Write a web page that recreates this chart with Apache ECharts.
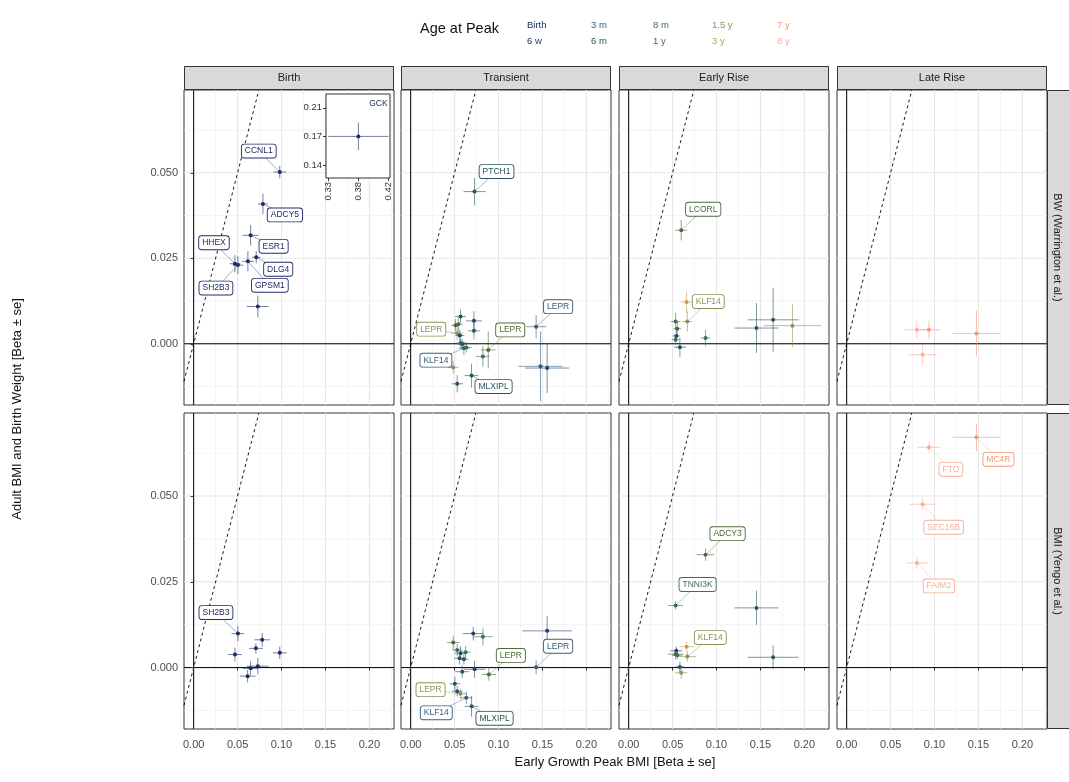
<!DOCTYPE html>
<html>
<head>
<meta charset="utf-8">
<script src="https://cdn.jsdelivr.net/npm/echarts@6/dist/echarts.min.js"></script>
<style>
  html, body { margin: 0; padding: 0; background: #fff; }
  #chart { width: 1069px; height: 782px; }
</style>
</head>
<body>
<div id="chart"></div>
<script>
// ---- categories and ticks ----
const ageGroups = ['Birth', '6 w', '3 m', '6 m', '8 m', '1 y', '1.5 y', '3 y', '7 y', '8 y'];
const peakPatterns = ['Birth', 'Transient', 'Early Rise', 'Late Rise'];
const outcomes = ['BW (Warrington et al.)', 'BMI (Yengo et al.)'];
const xTicks = [0, 0.05, 0.10, 0.15, 0.20];
const xMinorTicks = [0.025, 0.075, 0.125, 0.175, 0.225];
const yTicks = [0, 0.025, 0.050];
const yMinorTicks = [-0.0125, 0.0125, 0.0375, 0.0625];
const insetXTicks = [0.33, 0.375, 0.42];
const insetXTickLabels = ['0.33', '0.38', '0.42'];
const insetYTicks = [0.135, 0.17, 0.205];
const insetYTickLabels = ['0.14', '0.17', '0.21'];

// ---- SNP effects: [early growth peak BMI beta, outcome beta, se x, se y, age group index, gene] ----
const birthBW = [
  [0.0980, 0.0502, 0.0074, 0.0018, 0, 'CCNL1'],
  [0.0788, 0.0409, 0.0055, 0.0030, 0, 'ADCY5'],
  [0.0648, 0.0317, 0.0091, 0.0030, 0, 'ESR1'],
  [0.0712, 0.0253, 0.0046, 0.0018, 0, 'DLG4'],
  [0.0617, 0.0241, 0.0068, 0.0029, 0, 'GPSM1'],
  [0.0470, 0.0234, 0.0060, 0.0025, 0, 'HHEX'],
  [0.0504, 0.0230, 0.0060, 0.0026, 0, 'SH2B3'],
  [0.0730, 0.0109, 0.0125, 0.0032, 0, '']
];
const gckInset = [
  [0.375, 0.170, 0.045, 0.017, 0, 'GCK']
];
const transientBW = [
  [0.0727, 0.0445, 0.0125, 0.0040, 3, 'PTCH1'],
  [0.1428, 0.0050, 0.0114, 0.0034, 2, 'LEPR'],
  [0.0883, -0.0018, 0.0085, 0.0054, 5, 'LEPR'],
  [0.0530, 0.0031, 0.0070, 0.0020, 6, 'LEPR'],
  [0.0606, -0.0013, 0.0060, 0.0020, 2, 'KLF14'],
  [0.0693, -0.0093, 0.0080, 0.0035, 3, 'MLXIPL'],
  [0.0568, 0.0080, 0.0060, 0.0020, 3, ''],
  [0.0720, 0.0067, 0.0090, 0.0028, 1, ''],
  [0.0511, 0.0054, 0.0050, 0.0018, 2, ''],
  [0.0542, 0.0057, 0.0050, 0.0020, 5, ''],
  [0.0720, 0.0038, 0.0070, 0.0025, 3, ''],
  [0.0560, 0.0024, 0.0050, 0.0018, 1, ''],
  [0.0568, 0.0002, 0.0060, 0.0015, 4, ''],
  [0.0587, -0.0001, 0.0050, 0.0015, 3, ''],
  [0.0633, -0.0011, 0.0060, 0.0015, 4, ''],
  [0.0822, -0.0037, 0.0075, 0.0030, 4, ''],
  [0.0485, -0.0069, 0.0060, 0.0018, 6, ''],
  [0.0530, -0.0117, 0.0065, 0.0025, 3, ''],
  [0.1477, -0.0066, 0.0250, 0.0102, 2, ''],
  [0.1553, -0.0071, 0.0250, 0.0073, 1, '']
];
const earlyBW = [
  [0.0598, 0.0332, 0.0068, 0.0030, 5, 'LCORL'],
  [0.0667, 0.0065, 0.0057, 0.0030, 6, 'KLF14'],
  [0.0659, 0.0122, 0.0068, 0.0031, 7, ''],
  [0.0534, 0.0065, 0.0055, 0.0025, 4, ''],
  [0.0553, 0.0044, 0.0045, 0.0020, 5, ''],
  [0.0542, 0.0023, 0.0040, 0.0015, 1, ''],
  [0.0534, 0.0012, 0.0045, 0.0015, 4, ''],
  [0.0583, -0.0010, 0.0068, 0.0028, 3, ''],
  [0.0875, 0.0017, 0.0057, 0.0024, 4, ''],
  [0.1455, 0.0046, 0.0250, 0.0073, 3, ''],
  [0.1644, 0.0070, 0.0290, 0.0094, 3, ''],
  [0.1864, 0.0053, 0.0330, 0.0062, 6, '']
];
const lateBW = [
  [0.0799, 0.0041, 0.0150, 0.0026, 9, ''],
  [0.0936, 0.0041, 0.0125, 0.0026, 8, ''],
  [0.0864, -0.0032, 0.0160, 0.0030, 9, ''],
  [0.1477, 0.0030, 0.0270, 0.0067, 8, '']
];
const birthBMI = [
  [0.0504, 0.0099, 0.0072, 0.0022, 0, 'SH2B3'],
  [0.0470, 0.0038, 0.0080, 0.0020, 0, ''],
  [0.0780, 0.0081, 0.0090, 0.0020, 0, ''],
  [0.0708, 0.0056, 0.0080, 0.0015, 0, ''],
  [0.0980, 0.0043, 0.0080, 0.0018, 0, ''],
  [0.0730, 0.0004, 0.0125, 0.0024, 0, ''],
  [0.0648, -0.0002, 0.0090, 0.0020, 0, ''],
  [0.0614, -0.0025, 0.0090, 0.0018, 0, '']
];
const transientBMI = [
  [0.1428, 0.0001, 0.0114, 0.0020, 2, 'LEPR'],
  [0.0890, -0.0020, 0.0080, 0.0018, 5, 'LEPR'],
  [0.0568, -0.0076, 0.0070, 0.0015, 6, 'LEPR'],
  [0.0633, -0.0088, 0.0070, 0.0018, 2, 'KLF14'],
  [0.0693, -0.0113, 0.0080, 0.0030, 3, 'MLXIPL'],
  [0.1553, 0.0107, 0.0280, 0.0043, 1, ''],
  [0.0712, 0.0099, 0.0120, 0.0020, 1, ''],
  [0.0822, 0.0090, 0.0110, 0.0025, 4, ''],
  [0.0485, 0.0073, 0.0070, 0.0020, 5, ''],
  [0.0530, 0.0051, 0.0060, 0.0018, 4, ''],
  [0.0568, 0.0042, 0.0070, 0.0020, 1, ''],
  [0.0625, 0.0045, 0.0060, 0.0018, 4, ''],
  [0.0557, 0.0027, 0.0060, 0.0018, 3, ''],
  [0.0606, 0.0024, 0.0050, 0.0015, 3, ''],
  [0.0727, -0.0005, 0.0120, 0.0025, 1, ''],
  [0.0587, -0.0012, 0.0080, 0.0018, 3, ''],
  [0.0503, -0.0047, 0.0060, 0.0020, 3, ''],
  [0.0530, -0.0069, 0.0060, 0.0015, 3, '']
];
const earlyBMI = [
  [0.0875, 0.0329, 0.0100, 0.0018, 5, 'ADCY3'],
  [0.0534, 0.0181, 0.0085, 0.0012, 4, 'TNNI3K'],
  [0.0667, 0.0032, 0.0100, 0.0015, 6, 'KLF14'],
  [0.1455, 0.0174, 0.0250, 0.0050, 3, ''],
  [0.1644, 0.0030, 0.0290, 0.0035, 3, ''],
  [0.0659, 0.0061, 0.0080, 0.0015, 7, ''],
  [0.0542, 0.0049, 0.0070, 0.0012, 1, ''],
  [0.0534, 0.0039, 0.0090, 0.0015, 5, ''],
  [0.0553, 0.0036, 0.0060, 0.0012, 4, ''],
  [0.0583, 0.0002, 0.0050, 0.0015, 3, ''],
  [0.0598, -0.0015, 0.0070, 0.0018, 6, '']
];
const lateBMI = [
  [0.1477, 0.0671, 0.0270, 0.0040, 8, 'MC4R'],
  [0.0936, 0.0642, 0.0130, 0.0015, 9, 'FTO'],
  [0.0864, 0.0476, 0.0145, 0.0018, 9, 'SEC16B'],
  [0.0799, 0.0305, 0.0125, 0.0018, 9, 'FAIM2']
];

// ---- styling and layout ----
const FONT = "'Liberation Sans', Arial, Helvetica, sans-serif";
const ageColors = ['#1c2c66', '#23416b', '#365c77', '#27545f', '#3d6b5e',
                   '#4b6a38', '#8c9258', '#c4a052', '#f19a72', '#f6ae98'];
const X_RANGE = [-0.011, 0.228];
const Y_RANGE = [-0.0179, 0.0742];
const colLeft = [184, 401, 619, 837];
const colWidth = 210;
const rowTop = [90, 413];
const rowHeight = [315, 316];
const insetBox = { left: 326, top: 94, width: 64, height: 84 };
const INSET_X = [0.3266, 0.4222];
const INSET_Y = [0.119, 0.222];

// label box offsets from the point (px), keyed by row index within each panel
const labelOffsets = [
  { 0: [-21, -21], 1: [22, 11], 2: [23, 11], 3: [22, 12], 4: [22, 24], 5: [-21, -21], 6: [-22, 23] },
  { 0: [22, -20], 1: [22, -20], 2: [22, -20], 3: [-26, -4], 4: [-28, 12], 5: [22, 11] },
  { 0: [22, -21], 1: [21, -20] },
  {},
  { 0: [-22, -21] },
  { 0: [22, -21], 1: [22, -19], 2: [-30, -4], 3: [-30, 15], 4: [23, 12] },
  { 0: [22, -21], 1: [22, -21], 2: [23, -19] },
  { 0: [22, 22], 1: [22, 22], 2: [21, 23], 3: [22, 23] }
];
const insetLabelOffsets = { 0: [20, -33] };

const panelRows = [birthBW, transientBW, earlyBW, lateBW, birthBMI, transientBMI, earlyBMI, lateBMI];

// panel background: grid lines, zero lines and the y = x reference
function renderFrame(params, api) {
  const cs = params.coordSys;
  const children = [];
  const vline = (v, style) => {
    const p = api.coord([v, 0]);
    children.push({ type: 'line', shape: { x1: p[0], y1: cs.y, x2: p[0], y2: cs.y + cs.height }, style });
  };
  const hline = (v, style) => {
    const p = api.coord([0, v]);
    children.push({ type: 'line', shape: { x1: cs.x, y1: p[1], x2: cs.x + cs.width, y2: p[1] }, style });
  };
  const minor = { stroke: '#efefef', lineWidth: 0.7 };
  const major = { stroke: '#e6e6e6', lineWidth: 1.1 };
  xMinorTicks.forEach(v => vline(v, minor));
  yMinorTicks.forEach(v => hline(v, minor));
  xTicks.forEach(v => vline(v, major));
  yTicks.forEach(v => hline(v, major));
  hline(0, { stroke: '#000', lineWidth: 1 });
  vline(0, { stroke: '#000', lineWidth: 1 });
  const a = Math.max(X_RANGE[0], Y_RANGE[0]);
  const b = Math.min(X_RANGE[1], Y_RANGE[1]);
  const p0 = api.coord([a, a]);
  const p1 = api.coord([b, b]);
  children.push({ type: 'line', shape: { x1: p0[0], y1: p0[1], x2: p1[0], y2: p1[1] },
    style: { stroke: '#000', lineWidth: 0.9, lineDash: [3, 3] } });
  return { type: 'group', children };
}

// estimate with horizontal and vertical standard-error bars
function renderPoint(params, api) {
  const x = api.value(0), y = api.value(1), sx = api.value(2), sy = api.value(3);
  const col = ageColors[api.value(4)];
  const c = api.coord([x, y]);
  const l = api.coord([x - sx, y]), r = api.coord([x + sx, y]);
  const t = api.coord([x, y + sy]), b = api.coord([x, y - sy]);
  return {
    type: 'group',
    children: [
      { type: 'line', shape: { x1: l[0], y1: c[1], x2: r[0], y2: c[1] }, style: { stroke: col, opacity: 0.6, lineWidth: 1 } },
      { type: 'line', shape: { x1: c[0], y1: t[1], x2: c[0], y2: b[1] }, style: { stroke: col, opacity: 0.6, lineWidth: 1 } },
      { type: 'circle', shape: { cx: c[0], cy: c[1], r: 2 }, style: { fill: col } }
    ]
  };
}

// gene labels with leader segments
function makeLabelRenderer(rows, offsets, boxed) {
  return function (params, api) {
    const i = params.dataIndex;
    const text = rows[i][5];
    if (!text || !offsets[i]) return null;
    const col = ageColors[rows[i][4]];
    const c = api.coord([api.value(0), api.value(1)]);
    const lx = c[0] + offsets[i][0], ly = c[1] + offsets[i][1];
    const children = [];
    if (boxed) {
      children.push({ type: 'line', shape: { x1: c[0], y1: c[1], x2: lx, y2: ly },
        style: { stroke: col, opacity: 0.5, lineWidth: 0.8 } });
    }
    const style = { text, fill: col, fontSize: 8.5, fontFamily: FONT, align: 'center', verticalAlign: 'middle' };
    if (boxed) Object.assign(style, { backgroundColor: '#fff', borderColor: col, borderWidth: 0.9, borderRadius: 2.5, padding: [2, 3] });
    children.push({ type: 'text', x: lx, y: ly, style });
    return { type: 'group', children };
  };
}

const grids = [], xAxes = [], yAxes = [], series = [];
panelRows.forEach((rows, p) => {
  const col = p % 4, row = Math.floor(p / 4);
  grids.push({ left: colLeft[col], top: rowTop[row], width: colWidth, height: rowHeight[row],
    show: true, backgroundColor: '#fff', borderColor: '#333', borderWidth: 1, z: 0 });
  xAxes.push({
    type: 'value', gridIndex: p, min: X_RANGE[0], max: X_RANGE[1], z: 5,
    axisLine: { show: false }, splitLine: { show: false },
    axisTick: { show: row === 1, customValues: xTicks, length: 3, lineStyle: { color: '#333' } },
    axisLabel: { show: row === 1, customValues: xTicks, formatter: v => v.toFixed(2),
      color: '#4d4d4d', fontSize: 11, fontFamily: FONT, margin: 10 }
  });
  yAxes.push({
    type: 'value', gridIndex: p, min: Y_RANGE[0], max: Y_RANGE[1], z: 5,
    axisLine: { show: false }, splitLine: { show: false },
    axisTick: { show: col === 0, customValues: yTicks, length: 3, lineStyle: { color: '#333' } },
    axisLabel: { show: col === 0, customValues: yTicks, formatter: v => v.toFixed(3),
      color: '#4d4d4d', fontSize: 11, fontFamily: FONT, margin: 6 }
  });
  series.push({ type: 'custom', xAxisIndex: p, yAxisIndex: p, data: [[0, 0]], renderItem: renderFrame, z: 1, silent: true });
  series.push({ type: 'custom', xAxisIndex: p, yAxisIndex: p, data: rows.map(r => r.slice(0, 5)),
    encode: { x: 0, y: 1 }, renderItem: renderPoint, z: 3, silent: true });
  series.push({ type: 'custom', xAxisIndex: p, yAxisIndex: p, data: rows.map(r => r.slice(0, 5)),
    encode: { x: 0, y: 1 }, renderItem: makeLabelRenderer(rows, labelOffsets[p], true), z: 4, silent: true });
});

// GCK lies far outside the Birth panel range and gets its own small axes
const I = panelRows.length;
grids.push(Object.assign({ show: true, backgroundColor: '#fff', borderColor: '#333', borderWidth: 1, z: 10 }, insetBox));
xAxes.push({
  type: 'value', gridIndex: I, min: INSET_X[0], max: INSET_X[1], z: 11,
  axisLine: { show: false }, splitLine: { show: false },
  axisTick: { show: true, customValues: insetXTicks, length: 3, lineStyle: { color: '#333' } },
  axisLabel: { show: true, customValues: insetXTicks, rotate: 90,
    formatter: v => insetXTickLabels[insetXTicks.indexOf(v)],
    color: '#333', fontSize: 9.5, fontFamily: FONT, margin: 4 }
});
yAxes.push({
  type: 'value', gridIndex: I, min: INSET_Y[0], max: INSET_Y[1], z: 11,
  axisLine: { show: false }, splitLine: { show: false },
  axisTick: { show: true, customValues: insetYTicks, length: 3, lineStyle: { color: '#333' } },
  axisLabel: { show: true, customValues: insetYTicks,
    formatter: v => insetYTickLabels[insetYTicks.indexOf(v)],
    color: '#333', fontSize: 9.5, fontFamily: FONT, margin: 4 }
});
series.push({ type: 'custom', xAxisIndex: I, yAxisIndex: I, data: gckInset.map(r => r.slice(0, 5)),
  encode: { x: 0, y: 1 }, renderItem: renderPoint, z: 12, silent: true });
series.push({ type: 'custom', xAxisIndex: I, yAxisIndex: I, data: gckInset.map(r => r.slice(0, 5)),
  encode: { x: 0, y: 1 }, renderItem: makeLabelRenderer(gckInset, insetLabelOffsets, false), z: 13, silent: true });

// legend entries (one named series per age group)
ageGroups.forEach((name, i) => {
  series.push({ type: 'scatter', name, data: [], xAxisIndex: 0, yAxisIndex: 0, itemStyle: { color: ageColors[i] } });
});
const legendColumns = [[0, 1], [2, 3], [4, 5], [6, 7], [8, 9]];
const legendLeft = [522, 586, 648, 707, 772];
const legends = legendColumns.map((c, k) => ({
  orient: 'vertical', left: legendLeft[k] - 6, top: 15,
  itemWidth: 1, itemHeight: 10, itemGap: 6, icon: 'rect',
  itemStyle: { opacity: 0 }, selectedMode: false,
  textStyle: { fontSize: 9.5, fontFamily: FONT },
  data: c.map(i => ({ name: ageGroups[i], textStyle: { color: ageColors[i] } }))
}));

// facet strips, axis titles and legend title
const graphics = [];
peakPatterns.forEach((name, c) => {
  graphics.push({ type: 'rect', shape: { x: colLeft[c] + 0.5, y: 66.5, width: colWidth - 1, height: 23 },
    style: { fill: '#d9d9d9', stroke: '#333', lineWidth: 1 }, z: 20 });
  graphics.push({ type: 'text', x: colLeft[c] + colWidth / 2, y: 78,
    style: { text: name, fill: '#1a1a1a', fontSize: 11, fontFamily: FONT, align: 'center', verticalAlign: 'middle' }, z: 21 });
});
outcomes.forEach((name, r) => {
  graphics.push({ type: 'rect', shape: { x: 1047.5, y: rowTop[r] + 0.5, width: 30, height: rowHeight[r] - 1 },
    style: { fill: '#d9d9d9', stroke: '#333', lineWidth: 1 }, z: 20 });
  graphics.push({ type: 'text', x: 1057.5, y: rowTop[r] + rowHeight[r] / 2, rotation: -Math.PI / 2,
    style: { text: name, fill: '#1a1a1a', fontSize: 11, fontFamily: FONT, align: 'center', verticalAlign: 'middle' }, z: 21 });
});
graphics.push({ type: 'text', x: 615, y: 762,
  style: { text: 'Early Growth Peak BMI [Beta \u00b1 se]', fill: '#111', fontSize: 13, fontFamily: FONT, align: 'center', verticalAlign: 'middle' } });
graphics.push({ type: 'text', x: 17, y: 409, rotation: Math.PI / 2,
  style: { text: 'Adult BMI and Birth Weight [Beta \u00b1 se]', fill: '#111', fontSize: 13, fontFamily: FONT, align: 'center', verticalAlign: 'middle' } });
graphics.push({ type: 'text', x: 420, y: 29,
  style: { text: 'Age at Peak', fill: '#111', fontSize: 14.5, fontFamily: FONT, align: 'left', verticalAlign: 'middle' } });

const chart = echarts.init(document.getElementById('chart'), null, { renderer: 'canvas' });
chart.setOption({
  animation: false,
  backgroundColor: '#fff',
  grid: grids,
  xAxis: xAxes,
  yAxis: yAxes,
  legend: legends,
  graphic: graphics,
  series
});
</script>
</body>
</html>
